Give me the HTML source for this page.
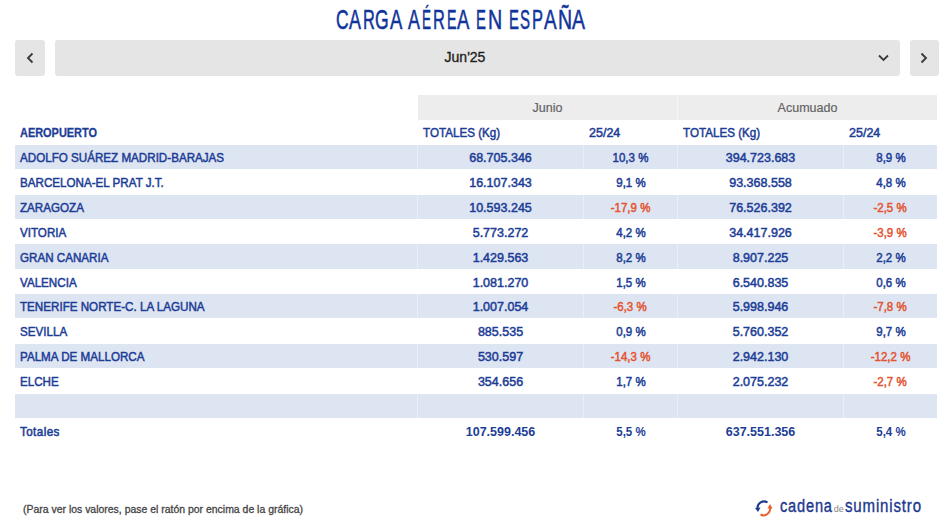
<!DOCTYPE html>
<html><head><meta charset="utf-8"><style>
html,body{margin:0;padding:0;background:#fff;width:950px;height:522px;overflow:hidden;}
body{position:relative;font-family:"Liberation Sans",sans-serif;}
body>div{position:absolute;}
.t{white-space:nowrap;}
.t span{display:inline-block;}
</style></head><body>
<div class="t" style="left:335.78px;top:5.98px;font-size:27.2px;line-height:27.2px;color:#10349a;font-weight:normal;-webkit-text-stroke:0.55px #10349a;"><span style="transform:scaleX(0.6423);transform-origin:0 0">C</span></div>
<div class="t" style="left:348.82px;top:5.98px;font-size:27.2px;line-height:27.2px;color:#10349a;font-weight:normal;-webkit-text-stroke:0.55px #10349a;"><span style="transform:scaleX(0.6577);transform-origin:0 0">A</span></div>
<div class="t" style="left:362.74px;top:5.98px;font-size:27.2px;line-height:27.2px;color:#10349a;font-weight:normal;-webkit-text-stroke:0.55px #10349a;"><span style="transform:scaleX(0.6030);transform-origin:0 0">R</span></div>
<div class="t" style="left:375.37px;top:5.98px;font-size:27.2px;line-height:27.2px;color:#10349a;font-weight:normal;-webkit-text-stroke:0.55px #10349a;"><span style="transform:scaleX(0.6466);transform-origin:0 0">G</span></div>
<div class="t" style="left:389.72px;top:5.98px;font-size:27.2px;line-height:27.2px;color:#10349a;font-weight:normal;-webkit-text-stroke:0.55px #10349a;"><span style="transform:scaleX(0.6792);transform-origin:0 0">A</span></div>
<div class="t" style="left:408.12px;top:5.98px;font-size:27.2px;line-height:27.2px;color:#10349a;font-weight:normal;-webkit-text-stroke:0.55px #10349a;"><span style="transform:scaleX(0.6577);transform-origin:0 0">A</span></div>
<div class="t" style="left:421.75px;top:5.98px;font-size:27.2px;line-height:27.2px;color:#10349a;font-weight:normal;-webkit-text-stroke:0.55px #10349a;"><span style="transform:scaleX(0.4951);transform-origin:0 0">É</span></div>
<div class="t" style="left:432.94px;top:5.98px;font-size:27.2px;line-height:27.2px;color:#10349a;font-weight:normal;-webkit-text-stroke:0.55px #10349a;"><span style="transform:scaleX(0.6030);transform-origin:0 0">R</span></div>
<div class="t" style="left:446.6px;top:5.98px;font-size:27.2px;line-height:27.2px;color:#10349a;font-weight:normal;-webkit-text-stroke:0.55px #10349a;"><span style="transform:scaleX(0.5212);transform-origin:0 0">E</span></div>
<div class="t" style="left:457.42px;top:5.98px;font-size:27.2px;line-height:27.2px;color:#10349a;font-weight:normal;-webkit-text-stroke:0.55px #10349a;"><span style="transform:scaleX(0.6792);transform-origin:0 0">A</span></div>
<div class="t" style="left:476.15px;top:5.98px;font-size:27.2px;line-height:27.2px;color:#10349a;font-weight:normal;-webkit-text-stroke:0.55px #10349a;"><span style="transform:scaleX(0.5472);transform-origin:0 0">E</span></div>
<div class="t" style="left:487.51px;top:5.98px;font-size:27.2px;line-height:27.2px;color:#10349a;font-weight:normal;-webkit-text-stroke:0.55px #10349a;"><span style="transform:scaleX(0.7238);transform-origin:0 0">N</span></div>
<div class="t" style="left:508.55px;top:5.98px;font-size:27.2px;line-height:27.2px;color:#10349a;font-weight:normal;-webkit-text-stroke:0.55px #10349a;"><span style="transform:scaleX(0.5472);transform-origin:0 0">E</span></div>
<div class="t" style="left:519.94px;top:5.98px;font-size:27.2px;line-height:27.2px;color:#10349a;font-weight:normal;-webkit-text-stroke:0.55px #10349a;"><span style="transform:scaleX(0.5511);transform-origin:0 0">S</span></div>
<div class="t" style="left:531.54px;top:5.98px;font-size:27.2px;line-height:27.2px;color:#10349a;font-weight:normal;-webkit-text-stroke:0.55px #10349a;"><span style="transform:scaleX(0.6047);transform-origin:0 0">P</span></div>
<div class="t" style="left:543.72px;top:5.98px;font-size:27.2px;line-height:27.2px;color:#10349a;font-weight:normal;-webkit-text-stroke:0.55px #10349a;"><span style="transform:scaleX(0.6954);transform-origin:0 0">A</span></div>
<div class="t" style="left:557.72px;top:5.98px;font-size:27.2px;line-height:27.2px;color:#10349a;font-weight:normal;-webkit-text-stroke:0.55px #10349a;"><span style="transform:scaleX(0.7175);transform-origin:0 0">Ñ</span></div>
<div class="t" style="left:571.83px;top:5.98px;font-size:27.2px;line-height:27.2px;color:#10349a;font-weight:normal;-webkit-text-stroke:0.55px #10349a;"><span style="transform:scaleX(0.7170);transform-origin:0 0">A</span></div>
<div style="left:15px;top:39.6px;width:30px;height:36px;background:#e5e5e5;border-radius:3px"></div>
<div style="left:55px;top:39.6px;width:845px;height:36px;background:#e5e5e5;border-radius:3px"></div>
<div style="left:910px;top:39.6px;width:29px;height:36px;background:#e5e5e5;border-radius:3px"></div>
<div class="t" style="left:55px;width:820px;text-align:center;top:50.25px;font-size:14px;line-height:14px;color:#1e1e1e;font-weight:normal;-webkit-text-stroke:0.35px #1e1e1e;"><span style="transform:scaleX(1.0000);transform-origin:50% 0">Jun'25</span></div>
<svg style="position:absolute;left:0;top:0" width="950" height="100"><path d="M32.5,53.5 L28,58 L32.5,62.5" fill="none" stroke="#3a3a3a" stroke-width="1.85"/><path d="M921.5,53.5 L926,58 L921.5,62.5" fill="none" stroke="#3a3a3a" stroke-width="1.85"/><path d="M879,55.5 L883.5,60 L888,55.5" fill="none" stroke="#3a3a3a" stroke-width="1.85"/></svg>
<div style="left:418px;top:95px;width:519px;height:24.5px;background:#ededed;"></div>
<div style="left:677px;top:95px;width:1px;height:24.5px;background:#f6f6f6;"></div>
<div class="t" style="left:418px;width:259px;text-align:center;top:101.72px;font-size:12.5px;line-height:12.5px;color:#646464;font-weight:normal;-webkit-text-stroke:0.2px #646464;"><span style="transform:scaleX(1.0000);transform-origin:50% 0">Junio</span></div>
<div class="t" style="left:678px;width:259px;text-align:center;top:101.72px;font-size:12.5px;line-height:12.5px;color:#646464;font-weight:normal;-webkit-text-stroke:0.2px #646464;"><span style="transform:scaleX(1.0000);transform-origin:50% 0">Acumuado</span></div>
<div class="t" style="left:20px;top:127.42px;font-size:12.5px;line-height:12.5px;color:#1c3d96;font-weight:bold;-webkit-text-stroke:0.3px #1c3d96;"><span style="transform:scaleX(0.8750);transform-origin:0 0">AEROPUERTO</span></div>
<div class="t" style="left:423px;top:127.42px;font-size:12.5px;line-height:12.5px;color:#1c3d96;font-weight:normal;-webkit-text-stroke:0.5px #1c3d96;"><span style="transform:scaleX(0.9300);transform-origin:0 0">TOTALES (Kg)</span></div>
<div class="t" style="left:589px;top:127.42px;font-size:12.5px;line-height:12.5px;color:#1c3d96;font-weight:normal;-webkit-text-stroke:0.5px #1c3d96;"><span style="transform:scaleX(1.0000);transform-origin:0 0">25/24</span></div>
<div class="t" style="left:683px;top:127.42px;font-size:12.5px;line-height:12.5px;color:#1c3d96;font-weight:normal;-webkit-text-stroke:0.5px #1c3d96;"><span style="transform:scaleX(0.9300);transform-origin:0 0">TOTALES (Kg)</span></div>
<div class="t" style="left:849px;top:127.42px;font-size:12.5px;line-height:12.5px;color:#1c3d96;font-weight:normal;-webkit-text-stroke:0.5px #1c3d96;"><span style="transform:scaleX(1.0000);transform-origin:0 0">25/24</span></div>
<div style="left:15px;top:144.8px;width:922px;height:24.3px;background:#dee5f2;"></div>
<div style="left:417px;top:144.8px;width:1px;height:24.3px;background:#e9eef8;"></div>
<div style="left:583px;top:144.8px;width:1px;height:24.3px;background:#e9eef8;"></div>
<div style="left:677px;top:144.8px;width:1px;height:24.3px;background:#e9eef8;"></div>
<div style="left:843px;top:144.8px;width:1px;height:24.3px;background:#e9eef8;"></div>
<div class="t" style="left:20px;top:152.02px;font-size:12.5px;line-height:12.5px;color:#1c3d96;font-weight:normal;-webkit-text-stroke:0.5px #1c3d96;"><span style="transform:scaleX(0.9300);transform-origin:0 0">ADOLFO SUÁREZ MADRID-BARAJAS</span></div>
<div class="t" style="left:418px;width:165px;text-align:center;top:152.02px;font-size:12.5px;line-height:12.5px;color:#1c3d96;font-weight:normal;-webkit-text-stroke:0.5px #1c3d96;"><span style="transform:scaleX(1.0000);transform-origin:50% 0">68.705.346</span></div>
<div class="t" style="left:584px;width:93px;text-align:center;top:152.02px;font-size:12.5px;line-height:12.5px;color:#1c3d96;font-weight:normal;-webkit-text-stroke:0.5px #1c3d96;"><span style="transform:scaleX(0.9200);transform-origin:50% 0">10,3 %</span></div>
<div class="t" style="left:678px;width:165px;text-align:center;top:152.02px;font-size:12.5px;line-height:12.5px;color:#1c3d96;font-weight:normal;-webkit-text-stroke:0.5px #1c3d96;"><span style="transform:scaleX(1.0000);transform-origin:50% 0">394.723.683</span></div>
<div class="t" style="left:844px;width:93px;text-align:center;top:152.02px;font-size:12.5px;line-height:12.5px;color:#1c3d96;font-weight:normal;-webkit-text-stroke:0.5px #1c3d96;"><span style="transform:scaleX(0.9200);transform-origin:50% 0">8,9 %</span></div>
<div class="t" style="left:20px;top:176.92px;font-size:12.5px;line-height:12.5px;color:#1c3d96;font-weight:normal;-webkit-text-stroke:0.5px #1c3d96;"><span style="transform:scaleX(0.9300);transform-origin:0 0">BARCELONA-EL PRAT J.T.</span></div>
<div class="t" style="left:418px;width:165px;text-align:center;top:176.92px;font-size:12.5px;line-height:12.5px;color:#1c3d96;font-weight:normal;-webkit-text-stroke:0.5px #1c3d96;"><span style="transform:scaleX(1.0000);transform-origin:50% 0">16.107.343</span></div>
<div class="t" style="left:584px;width:93px;text-align:center;top:176.92px;font-size:12.5px;line-height:12.5px;color:#1c3d96;font-weight:normal;-webkit-text-stroke:0.5px #1c3d96;"><span style="transform:scaleX(0.9200);transform-origin:50% 0">9,1 %</span></div>
<div class="t" style="left:678px;width:165px;text-align:center;top:176.92px;font-size:12.5px;line-height:12.5px;color:#1c3d96;font-weight:normal;-webkit-text-stroke:0.5px #1c3d96;"><span style="transform:scaleX(1.0000);transform-origin:50% 0">93.368.558</span></div>
<div class="t" style="left:844px;width:93px;text-align:center;top:176.92px;font-size:12.5px;line-height:12.5px;color:#1c3d96;font-weight:normal;-webkit-text-stroke:0.5px #1c3d96;"><span style="transform:scaleX(0.9200);transform-origin:50% 0">4,8 %</span></div>
<div style="left:15px;top:194.6px;width:922px;height:24.3px;background:#dee5f2;"></div>
<div style="left:417px;top:194.6px;width:1px;height:24.3px;background:#e9eef8;"></div>
<div style="left:583px;top:194.6px;width:1px;height:24.3px;background:#e9eef8;"></div>
<div style="left:677px;top:194.6px;width:1px;height:24.3px;background:#e9eef8;"></div>
<div style="left:843px;top:194.6px;width:1px;height:24.3px;background:#e9eef8;"></div>
<div class="t" style="left:20px;top:201.82px;font-size:12.5px;line-height:12.5px;color:#1c3d96;font-weight:normal;-webkit-text-stroke:0.5px #1c3d96;"><span style="transform:scaleX(0.9300);transform-origin:0 0">ZARAGOZA</span></div>
<div class="t" style="left:418px;width:165px;text-align:center;top:201.82px;font-size:12.5px;line-height:12.5px;color:#1c3d96;font-weight:normal;-webkit-text-stroke:0.5px #1c3d96;"><span style="transform:scaleX(1.0000);transform-origin:50% 0">10.593.245</span></div>
<div class="t" style="left:584px;width:93px;text-align:center;top:201.82px;font-size:12.5px;line-height:12.5px;color:#e4532f;font-weight:normal;-webkit-text-stroke:0.5px #e4532f;"><span style="transform:scaleX(0.9200);transform-origin:50% 0">-17,9 %</span></div>
<div class="t" style="left:678px;width:165px;text-align:center;top:201.82px;font-size:12.5px;line-height:12.5px;color:#1c3d96;font-weight:normal;-webkit-text-stroke:0.5px #1c3d96;"><span style="transform:scaleX(1.0000);transform-origin:50% 0">76.526.392</span></div>
<div class="t" style="left:844px;width:93px;text-align:center;top:201.82px;font-size:12.5px;line-height:12.5px;color:#e4532f;font-weight:normal;-webkit-text-stroke:0.5px #e4532f;"><span style="transform:scaleX(0.9200);transform-origin:50% 0">-2,5 %</span></div>
<div class="t" style="left:20px;top:226.72px;font-size:12.5px;line-height:12.5px;color:#1c3d96;font-weight:normal;-webkit-text-stroke:0.5px #1c3d96;"><span style="transform:scaleX(0.9300);transform-origin:0 0">VITORIA</span></div>
<div class="t" style="left:418px;width:165px;text-align:center;top:226.72px;font-size:12.5px;line-height:12.5px;color:#1c3d96;font-weight:normal;-webkit-text-stroke:0.5px #1c3d96;"><span style="transform:scaleX(1.0000);transform-origin:50% 0">5.773.272</span></div>
<div class="t" style="left:584px;width:93px;text-align:center;top:226.72px;font-size:12.5px;line-height:12.5px;color:#1c3d96;font-weight:normal;-webkit-text-stroke:0.5px #1c3d96;"><span style="transform:scaleX(0.9200);transform-origin:50% 0">4,2 %</span></div>
<div class="t" style="left:678px;width:165px;text-align:center;top:226.72px;font-size:12.5px;line-height:12.5px;color:#1c3d96;font-weight:normal;-webkit-text-stroke:0.5px #1c3d96;"><span style="transform:scaleX(1.0000);transform-origin:50% 0">34.417.926</span></div>
<div class="t" style="left:844px;width:93px;text-align:center;top:226.72px;font-size:12.5px;line-height:12.5px;color:#e4532f;font-weight:normal;-webkit-text-stroke:0.5px #e4532f;"><span style="transform:scaleX(0.9200);transform-origin:50% 0">-3,9 %</span></div>
<div style="left:15px;top:244.4px;width:922px;height:24.3px;background:#dee5f2;"></div>
<div style="left:417px;top:244.4px;width:1px;height:24.3px;background:#e9eef8;"></div>
<div style="left:583px;top:244.4px;width:1px;height:24.3px;background:#e9eef8;"></div>
<div style="left:677px;top:244.4px;width:1px;height:24.3px;background:#e9eef8;"></div>
<div style="left:843px;top:244.4px;width:1px;height:24.3px;background:#e9eef8;"></div>
<div class="t" style="left:20px;top:251.62px;font-size:12.5px;line-height:12.5px;color:#1c3d96;font-weight:normal;-webkit-text-stroke:0.5px #1c3d96;"><span style="transform:scaleX(0.9300);transform-origin:0 0">GRAN CANARIA</span></div>
<div class="t" style="left:418px;width:165px;text-align:center;top:251.62px;font-size:12.5px;line-height:12.5px;color:#1c3d96;font-weight:normal;-webkit-text-stroke:0.5px #1c3d96;"><span style="transform:scaleX(1.0000);transform-origin:50% 0">1.429.563</span></div>
<div class="t" style="left:584px;width:93px;text-align:center;top:251.62px;font-size:12.5px;line-height:12.5px;color:#1c3d96;font-weight:normal;-webkit-text-stroke:0.5px #1c3d96;"><span style="transform:scaleX(0.9200);transform-origin:50% 0">8,2 %</span></div>
<div class="t" style="left:678px;width:165px;text-align:center;top:251.62px;font-size:12.5px;line-height:12.5px;color:#1c3d96;font-weight:normal;-webkit-text-stroke:0.5px #1c3d96;"><span style="transform:scaleX(1.0000);transform-origin:50% 0">8.907.225</span></div>
<div class="t" style="left:844px;width:93px;text-align:center;top:251.62px;font-size:12.5px;line-height:12.5px;color:#1c3d96;font-weight:normal;-webkit-text-stroke:0.5px #1c3d96;"><span style="transform:scaleX(0.9200);transform-origin:50% 0">2,2 %</span></div>
<div class="t" style="left:20px;top:276.52px;font-size:12.5px;line-height:12.5px;color:#1c3d96;font-weight:normal;-webkit-text-stroke:0.5px #1c3d96;"><span style="transform:scaleX(0.9300);transform-origin:0 0">VALENCIA</span></div>
<div class="t" style="left:418px;width:165px;text-align:center;top:276.52px;font-size:12.5px;line-height:12.5px;color:#1c3d96;font-weight:normal;-webkit-text-stroke:0.5px #1c3d96;"><span style="transform:scaleX(1.0000);transform-origin:50% 0">1.081.270</span></div>
<div class="t" style="left:584px;width:93px;text-align:center;top:276.52px;font-size:12.5px;line-height:12.5px;color:#1c3d96;font-weight:normal;-webkit-text-stroke:0.5px #1c3d96;"><span style="transform:scaleX(0.9200);transform-origin:50% 0">1,5 %</span></div>
<div class="t" style="left:678px;width:165px;text-align:center;top:276.52px;font-size:12.5px;line-height:12.5px;color:#1c3d96;font-weight:normal;-webkit-text-stroke:0.5px #1c3d96;"><span style="transform:scaleX(1.0000);transform-origin:50% 0">6.540.835</span></div>
<div class="t" style="left:844px;width:93px;text-align:center;top:276.52px;font-size:12.5px;line-height:12.5px;color:#1c3d96;font-weight:normal;-webkit-text-stroke:0.5px #1c3d96;"><span style="transform:scaleX(0.9200);transform-origin:50% 0">0,6 %</span></div>
<div style="left:15px;top:294.2px;width:922px;height:24.3px;background:#dee5f2;"></div>
<div style="left:417px;top:294.2px;width:1px;height:24.3px;background:#e9eef8;"></div>
<div style="left:583px;top:294.2px;width:1px;height:24.3px;background:#e9eef8;"></div>
<div style="left:677px;top:294.2px;width:1px;height:24.3px;background:#e9eef8;"></div>
<div style="left:843px;top:294.2px;width:1px;height:24.3px;background:#e9eef8;"></div>
<div class="t" style="left:20px;top:301.42px;font-size:12.5px;line-height:12.5px;color:#1c3d96;font-weight:normal;-webkit-text-stroke:0.5px #1c3d96;"><span style="transform:scaleX(0.9300);transform-origin:0 0">TENERIFE NORTE-C. LA LAGUNA</span></div>
<div class="t" style="left:418px;width:165px;text-align:center;top:301.42px;font-size:12.5px;line-height:12.5px;color:#1c3d96;font-weight:normal;-webkit-text-stroke:0.5px #1c3d96;"><span style="transform:scaleX(1.0000);transform-origin:50% 0">1.007.054</span></div>
<div class="t" style="left:584px;width:93px;text-align:center;top:301.42px;font-size:12.5px;line-height:12.5px;color:#e4532f;font-weight:normal;-webkit-text-stroke:0.5px #e4532f;"><span style="transform:scaleX(0.9200);transform-origin:50% 0">-6,3 %</span></div>
<div class="t" style="left:678px;width:165px;text-align:center;top:301.42px;font-size:12.5px;line-height:12.5px;color:#1c3d96;font-weight:normal;-webkit-text-stroke:0.5px #1c3d96;"><span style="transform:scaleX(1.0000);transform-origin:50% 0">5.998.946</span></div>
<div class="t" style="left:844px;width:93px;text-align:center;top:301.42px;font-size:12.5px;line-height:12.5px;color:#e4532f;font-weight:normal;-webkit-text-stroke:0.5px #e4532f;"><span style="transform:scaleX(0.9200);transform-origin:50% 0">-7,8 %</span></div>
<div class="t" style="left:20px;top:326.32px;font-size:12.5px;line-height:12.5px;color:#1c3d96;font-weight:normal;-webkit-text-stroke:0.5px #1c3d96;"><span style="transform:scaleX(0.9300);transform-origin:0 0">SEVILLA</span></div>
<div class="t" style="left:418px;width:165px;text-align:center;top:326.32px;font-size:12.5px;line-height:12.5px;color:#1c3d96;font-weight:normal;-webkit-text-stroke:0.5px #1c3d96;"><span style="transform:scaleX(1.0000);transform-origin:50% 0">885.535</span></div>
<div class="t" style="left:584px;width:93px;text-align:center;top:326.32px;font-size:12.5px;line-height:12.5px;color:#1c3d96;font-weight:normal;-webkit-text-stroke:0.5px #1c3d96;"><span style="transform:scaleX(0.9200);transform-origin:50% 0">0,9 %</span></div>
<div class="t" style="left:678px;width:165px;text-align:center;top:326.32px;font-size:12.5px;line-height:12.5px;color:#1c3d96;font-weight:normal;-webkit-text-stroke:0.5px #1c3d96;"><span style="transform:scaleX(1.0000);transform-origin:50% 0">5.760.352</span></div>
<div class="t" style="left:844px;width:93px;text-align:center;top:326.32px;font-size:12.5px;line-height:12.5px;color:#1c3d96;font-weight:normal;-webkit-text-stroke:0.5px #1c3d96;"><span style="transform:scaleX(0.9200);transform-origin:50% 0">9,7 %</span></div>
<div style="left:15px;top:344.0px;width:922px;height:24.3px;background:#dee5f2;"></div>
<div style="left:417px;top:344.0px;width:1px;height:24.3px;background:#e9eef8;"></div>
<div style="left:583px;top:344.0px;width:1px;height:24.3px;background:#e9eef8;"></div>
<div style="left:677px;top:344.0px;width:1px;height:24.3px;background:#e9eef8;"></div>
<div style="left:843px;top:344.0px;width:1px;height:24.3px;background:#e9eef8;"></div>
<div class="t" style="left:20px;top:351.22px;font-size:12.5px;line-height:12.5px;color:#1c3d96;font-weight:normal;-webkit-text-stroke:0.5px #1c3d96;"><span style="transform:scaleX(0.9300);transform-origin:0 0">PALMA DE MALLORCA</span></div>
<div class="t" style="left:418px;width:165px;text-align:center;top:351.22px;font-size:12.5px;line-height:12.5px;color:#1c3d96;font-weight:normal;-webkit-text-stroke:0.5px #1c3d96;"><span style="transform:scaleX(1.0000);transform-origin:50% 0">530.597</span></div>
<div class="t" style="left:584px;width:93px;text-align:center;top:351.22px;font-size:12.5px;line-height:12.5px;color:#e4532f;font-weight:normal;-webkit-text-stroke:0.5px #e4532f;"><span style="transform:scaleX(0.9200);transform-origin:50% 0">-14,3 %</span></div>
<div class="t" style="left:678px;width:165px;text-align:center;top:351.22px;font-size:12.5px;line-height:12.5px;color:#1c3d96;font-weight:normal;-webkit-text-stroke:0.5px #1c3d96;"><span style="transform:scaleX(1.0000);transform-origin:50% 0">2.942.130</span></div>
<div class="t" style="left:844px;width:93px;text-align:center;top:351.22px;font-size:12.5px;line-height:12.5px;color:#e4532f;font-weight:normal;-webkit-text-stroke:0.5px #e4532f;"><span style="transform:scaleX(0.9200);transform-origin:50% 0">-12,2 %</span></div>
<div class="t" style="left:20px;top:376.12px;font-size:12.5px;line-height:12.5px;color:#1c3d96;font-weight:normal;-webkit-text-stroke:0.5px #1c3d96;"><span style="transform:scaleX(0.9300);transform-origin:0 0">ELCHE</span></div>
<div class="t" style="left:418px;width:165px;text-align:center;top:376.12px;font-size:12.5px;line-height:12.5px;color:#1c3d96;font-weight:normal;-webkit-text-stroke:0.5px #1c3d96;"><span style="transform:scaleX(1.0000);transform-origin:50% 0">354.656</span></div>
<div class="t" style="left:584px;width:93px;text-align:center;top:376.12px;font-size:12.5px;line-height:12.5px;color:#1c3d96;font-weight:normal;-webkit-text-stroke:0.5px #1c3d96;"><span style="transform:scaleX(0.9200);transform-origin:50% 0">1,7 %</span></div>
<div class="t" style="left:678px;width:165px;text-align:center;top:376.12px;font-size:12.5px;line-height:12.5px;color:#1c3d96;font-weight:normal;-webkit-text-stroke:0.5px #1c3d96;"><span style="transform:scaleX(1.0000);transform-origin:50% 0">2.075.232</span></div>
<div class="t" style="left:844px;width:93px;text-align:center;top:376.12px;font-size:12.5px;line-height:12.5px;color:#e4532f;font-weight:normal;-webkit-text-stroke:0.5px #e4532f;"><span style="transform:scaleX(0.9200);transform-origin:50% 0">-2,7 %</span></div>
<div style="left:15px;top:393.8px;width:922px;height:24.3px;background:#dee5f2;"></div>
<div style="left:417px;top:393.8px;width:1px;height:24.3px;background:#e9eef8;"></div>
<div style="left:583px;top:393.8px;width:1px;height:24.3px;background:#e9eef8;"></div>
<div style="left:677px;top:393.8px;width:1px;height:24.3px;background:#e9eef8;"></div>
<div style="left:843px;top:393.8px;width:1px;height:24.3px;background:#e9eef8;"></div>
<div class="t" style="left:20px;top:425.92px;font-size:12.5px;line-height:12.5px;color:#1c3d96;font-weight:normal;letter-spacing:0.45px;-webkit-text-stroke:0.55px #1c3d96;"><span style="transform:scaleX(0.9300);transform-origin:0 0">Totales</span></div>
<div class="t" style="left:418px;width:165px;text-align:center;top:425.92px;font-size:12.5px;line-height:12.5px;color:#1c3d96;font-weight:bold;"><span style="transform:scaleX(1.0000);transform-origin:50% 0">107.599.456</span></div>
<div class="t" style="left:584px;width:93px;text-align:center;top:425.92px;font-size:12.5px;line-height:12.5px;color:#1c3d96;font-weight:bold;"><span style="transform:scaleX(0.9200);transform-origin:50% 0">5,5 %</span></div>
<div class="t" style="left:678px;width:165px;text-align:center;top:425.92px;font-size:12.5px;line-height:12.5px;color:#1c3d96;font-weight:bold;"><span style="transform:scaleX(1.0000);transform-origin:50% 0">637.551.356</span></div>
<div class="t" style="left:844px;width:93px;text-align:center;top:425.92px;font-size:12.5px;line-height:12.5px;color:#1c3d96;font-weight:bold;"><span style="transform:scaleX(0.9200);transform-origin:50% 0">5,4 %</span></div>
<div class="t" style="left:23.4px;top:503.61px;font-size:10.5px;line-height:10.5px;color:#444;font-weight:normal;-webkit-text-stroke:0.3px #444;"><span style="transform:scaleX(0.9954);transform-origin:0 0">(Para ver los valores, pase el ratón por encima de la gráfica)</span></div>
<svg style="position:absolute;left:750px;top:494.7px" width="30" height="28" viewBox="0 0 30 28"><path d="M17.5,7.5 A6.5,6.5 0 0 0 7.5,13.5" fill="none" stroke="#1b3a8e" stroke-width="2"/><path d="M5,13 L8,17 L10.5,12.5 Z" fill="#1b3a8e"/><path d="M10.5,19.5 A6.5,6.5 0 0 0 20,12.5" fill="none" stroke="#e8602c" stroke-width="2"/><path d="M17.5,13.5 L20,9 L22.5,13.5 Z" fill="#e8602c"/></svg>
<div class="t" style="left:780px;top:497.46px;font-size:18px;line-height:18px;color:#1b3a8e;font-weight:normal;letter-spacing:1.0px;-webkit-text-stroke:0.4px #1b3a8e;"><span style="transform:scaleX(0.8112);transform-origin:0 0">cadena</span></div>
<div class="t" style="left:833.7px;top:505.08px;font-size:9px;line-height:9px;color:#888;font-weight:normal;"><span style="transform:scaleX(1.0000);transform-origin:0 0">de</span></div>
<div class="t" style="left:845px;top:497.46px;font-size:18px;line-height:18px;color:#1b3a8e;font-weight:normal;letter-spacing:1.0px;-webkit-text-stroke:0.4px #1b3a8e;"><span style="transform:scaleX(0.8352);transform-origin:0 0">suministro</span></div>
</body></html>
